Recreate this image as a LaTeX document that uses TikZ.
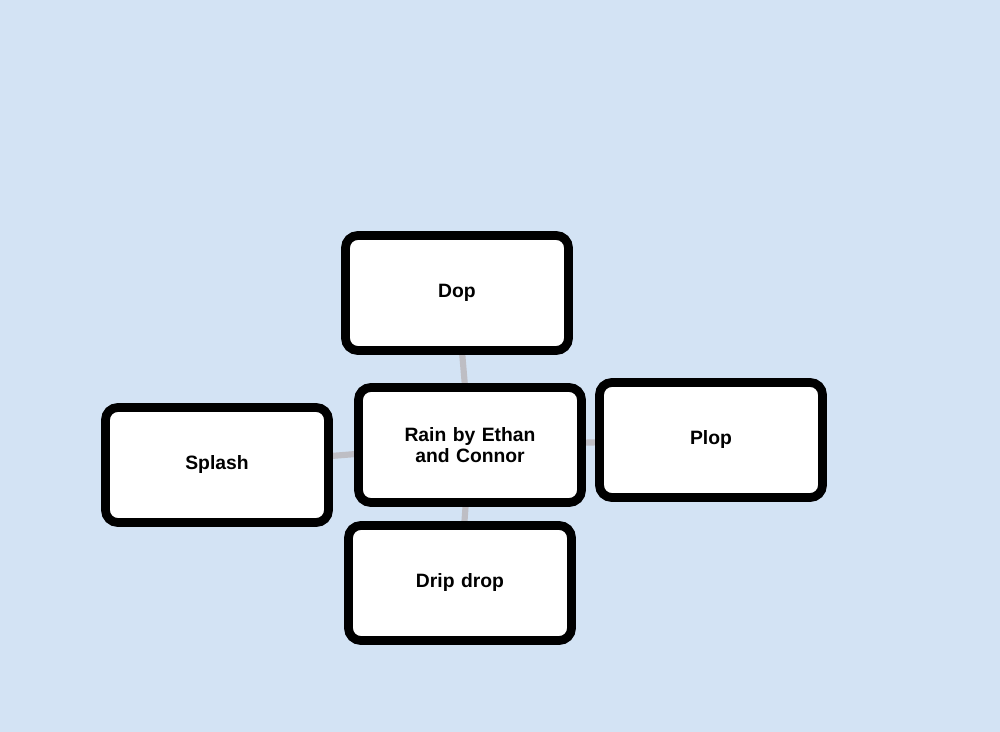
\documentclass[tikz,border=0pt]{standalone}
\usepackage{fontspec}
\setmainfont{Liberation Sans}
\definecolor{bg}{RGB}{211,227,244}
\definecolor{link}{RGB}{190,190,196}
\begin{document}
\begin{tikzpicture}[x=0.02cm,y=-0.02cm,
  box/.style={draw=black,fill=white,line width=5pt,rounded corners=7pt,minimum width=223*0.02cm,minimum height=115*0.02cm,align=center,text width=150*0.02cm,font=\bfseries\fontsize{11}{12}\selectfont},
  link/.style={draw=link,line width=3.5pt}]
\fill[bg] (0,0) rectangle (1000,732);
\useasboundingbox (0,0) rectangle (1000,732);
\coordinate (cc) at (470,445);
\draw[link] (457,293) -- (cc);
\draw[link] (711,440) -- (cc);
\draw[link] (217,465) -- (cc);
\draw[link] (460,583) -- (cc);
\node[box] (dop) at (457,293) {Dop};
\node[box] (plop) at (711,440) {Plop};
\node[box] (splash) at (217,465) {Splash};
\node[box] (drip) at (460,583) {Drip drop};
\node[box] (rain) at (cc) {Rain by Ethan and Connor};
\end{tikzpicture}
\end{document}
